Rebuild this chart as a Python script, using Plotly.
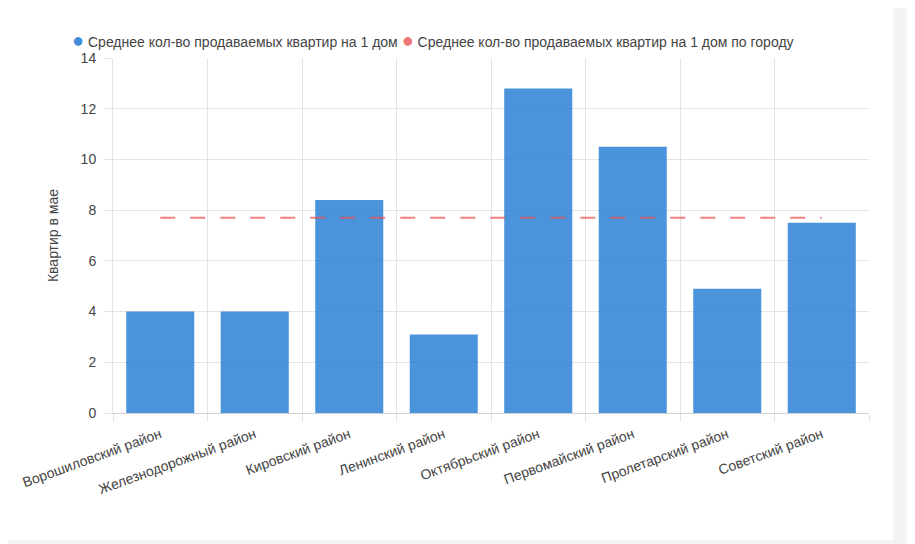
import plotly.graph_objects as go

# districts and values
districts = [
    "Ворошиловский район",
    "Железнодорожный район",
    "Кировский район",
    "Ленинский район",
    "Октябрьский район",
    "Первомайский район",
    "Пролетарский район",
    "Советский район",
]
avg_per_house = [4.0, 4.0, 8.4, 3.1, 12.8, 10.5, 4.9, 7.5]
city_avg = [7.7, 7.7, 7.7, 7.7, 7.7, 7.7, 7.7, 7.7]

bar_name = "Среднее кол-во продаваемых квартир на 1 дом"
line_name = "Среднее кол-во продаваемых квартир на 1 дом по городу"

BLUE = "rgba(30,120,210,0.8)"
RED = "rgba(232,80,80,0.72)"

# page body has an 8px margin, so layout numbers are 8px less than screen ones
W, H = 915, 544
L, R, T, B = 105, 54, 50, 139
pw, ph = W - L - R, H - T - B

fig = go.Figure()

fig.add_trace(go.Bar(
    x=districts, y=avg_per_house, name=bar_name,
    marker=dict(color=BLUE, line=dict(width=0)),
))
fig.add_trace(go.Scatter(
    x=districts, y=city_avg, name=line_name, mode="lines",
    line=dict(color=RED, width=2, dash="15px,15px"),
))

# legend drawn as text with round markers, tight spacing like the original
dot = "<span style='font-size:20px;color:{}'>●</span>"
legend_text = (
    dot.format("rgba(30,120,210,0.85)") + " " + bar_name
    + " " + dot.format("rgba(235,80,80,0.8)") + " " + line_name
)
fig.add_annotation(text=legend_text, xref="paper", yref="paper",
                   x=(62 - L) / pw, xanchor="left",
                   y=1 + (T - 32) / ph, yanchor="middle",
                   showarrow=False, font=dict(size=14, color="#444"))

# page background strips outside the white card
fig.add_shape(type="rect", xref="paper", yref="paper", layer="below",
              x0=(885 - L) / pw, x1=(W - L) / pw,
              y0=-B / ph, y1=1 + T / ph,
              fillcolor="#f3f3f3", line_width=0)
fig.add_shape(type="rect", xref="paper", yref="paper", layer="below",
              x0=-L / pw, x1=(W - L) / pw,
              y0=-B / ph, y1=-(532 - (H - B)) / ph,
              fillcolor="#f3f3f3", line_width=0)

fig.update_layout(
    width=W, height=H,
    margin=dict(l=L, r=R, t=T, b=B, autoexpand=False),
    paper_bgcolor="white", plot_bgcolor="white",
    font=dict(family="Liberation Sans, Arial, sans-serif", size=14, color="#555"),
    bargap=0.28,
    showlegend=False,
    xaxis=dict(
        type="category", tickson="boundaries", tickangle=-20,
        showgrid=True, gridcolor="#e3e3e3", gridwidth=1,
        ticks="outside", ticklen=8, tickcolor="#e3e3e3", ticklabelstandoff=7,
        showline=True, linecolor="#d0d0d0",
        tickfont=dict(size=14, color="#444"),
        range=[-0.5, 7.5], automargin=False,
    ),
    yaxis=dict(
        range=[0, 14], dtick=2, showgrid=True, gridcolor="#e3e3e3",
        zeroline=False, showline=True, linecolor="#e3e3e3",
        ticks="outside", ticklen=8, tickcolor="#e3e3e3", ticklabelstandoff=5,
        tickfont=dict(size=14, color="#444"), automargin=False,
        title=dict(text="Квартир в мае", font=dict(size=14, color="#444"), standoff=18),
    ),
)

fig.write_html("out.html")
